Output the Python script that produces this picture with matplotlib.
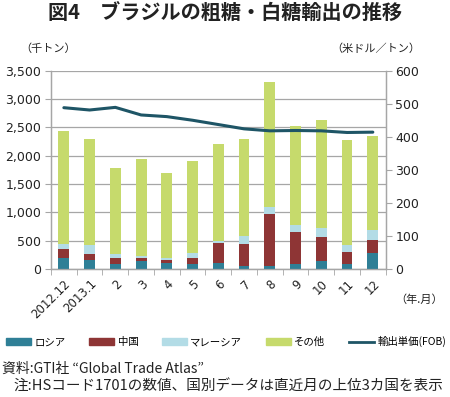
import matplotlib.pyplot as plt
import numpy as np
from matplotlib.patches import Patch
from matplotlib.lines import Line2D

plt.rcParams['font.family'] = ['Noto Sans CJK JP', 'DejaVu Sans']

# 月ラベル
months = ['2012.12', '2013.1', '2', '3', '4', '5', '6', '7', '8', '9', '10', '11', '12']

# 国別輸出量（千トン）
russia   = [200, 153,  88, 141, 106,  88, 100,  59,  47,  88, 147,  88, 288]
china    = [150, 118, 112,  53,  53, 106, 359, 376, 924, 565, 418, 218, 218]
malaysia = [ 85, 147,  71,  41,  35,  82,  29, 141, 123, 129, 164, 112, 176]
others   = [2006, 1882, 1505, 1706, 1494, 1630, 1718, 1724, 2206, 1747, 1895, 1853, 1659]

# 輸出単価 FOB（米ドル／トン）
price = [488, 481, 489, 466, 461, 450, 437, 424, 418, 419, 418, 413, 414]

c_russia = '#2f7f96'
c_china = '#8e3535'
c_malay = '#b3dce6'
c_other = '#c6da6c'
c_line = '#1e5566'
c_grid = '#a6a6a6'

fig = plt.figure(figsize=(4.5, 3.97), dpi=100)
ax = fig.add_axes([0.1133, 0.3224, 0.7438, 0.4996])
ax2 = ax.twinx()

x = np.arange(len(months))
w = 0.42
b1 = np.array(russia)
b2 = b1 + np.array(china)
b3 = b2 + np.array(malaysia)
ax.bar(x, russia, w, color=c_russia, zorder=3)
ax.bar(x, china, w, bottom=b1, color=c_china, zorder=3)
ax.bar(x, malaysia, w, bottom=b2, color=c_malay, zorder=3)
ax.bar(x, others, w, bottom=b3, color=c_other, zorder=3)

ax2.plot(x, price, color=c_line, lw=2.2, solid_capstyle='round')

ax.set_xlim(-0.5, len(months) - 0.5)
ax.set_ylim(0, 3500)
ax.set_yticks(np.arange(0, 3501, 500))
ax.set_yticklabels([f'{v:,}' for v in range(0, 3501, 500)], family='DejaVu Sans')
ax2.set_ylim(0, 600)
ax2.set_yticks(np.arange(0, 601, 100))
ax2.set_yticklabels([str(v) for v in range(0, 601, 100)], family='DejaVu Sans')

ax.yaxis.grid(True, color=c_grid, lw=0.9, zorder=0)
ax.set_axisbelow(True)

ax.set_xticks(x)
ax.set_xticklabels(months, rotation=45, ha='right', rotation_mode='anchor', fontsize=8.5, family='DejaVu Sans', color='#222222')
ax.tick_params(axis='x', length=0, pad=6)
ax.set_xticks(np.arange(-0.5, len(months)), minor=True)
ax.tick_params(axis='x', which='minor', length=4, color=c_grid, direction='out')
ax.tick_params(axis='y', length=4, color=c_grid, labelsize=9, labelcolor='#222222', pad=3)
ax2.tick_params(axis='y', length=4, color=c_grid, labelsize=9, labelcolor='#222222', pad=3)

for a in (ax, ax2):
    a.spines['top'].set_visible(False)
    for s in ('left', 'right', 'bottom'):
        a.spines[s].set_color(c_grid)
        a.spines[s].set_linewidth(0.9)

fig.text(0.5, 0.967, '図4　ブラジルの粗糖・白糖輸出の推移', ha='center', va='center',
         fontsize=14.5, fontweight='bold', color='#222222')
fig.text(0.045, 0.877, '（千トン）', ha='left', va='center', fontsize=8, color='#222222')
fig.text(0.935, 0.877, '（米ドル／トン）', ha='right', va='center', fontsize=8, color='#222222')
fig.text(0.985, 0.245, '（年.月）', ha='right', va='center', fontsize=8, color='#222222')

handles = [Patch(color=c_russia), Patch(color=c_china), Patch(color=c_malay),
           Patch(color=c_other), Line2D([], [], color=c_line, lw=2)]
labels = ['ロシア', '中国', 'マレーシア', 'その他', '輸出単価(FOB)']
fig.legend(handles, labels, loc='center', bbox_to_anchor=(0.503, 0.139), ncol=5,
           frameon=False, fontsize=7.5, handlelength=2.4, handleheight=0.6,
           handletextpad=0.3, columnspacing=2.3, borderaxespad=0)

fig.text(0.004, 0.072, '資料:GTI社 “Global Trade Atlas”', ha='left', va='center', fontsize=10, color='#222222')
fig.text(0.03, 0.026, '注:HSコード1701の数値、国別データは直近月の上位3カ国を表示', ha='left', va='center', fontsize=10.5, color='#222222')

fig.savefig('out.png', dpi=100)
